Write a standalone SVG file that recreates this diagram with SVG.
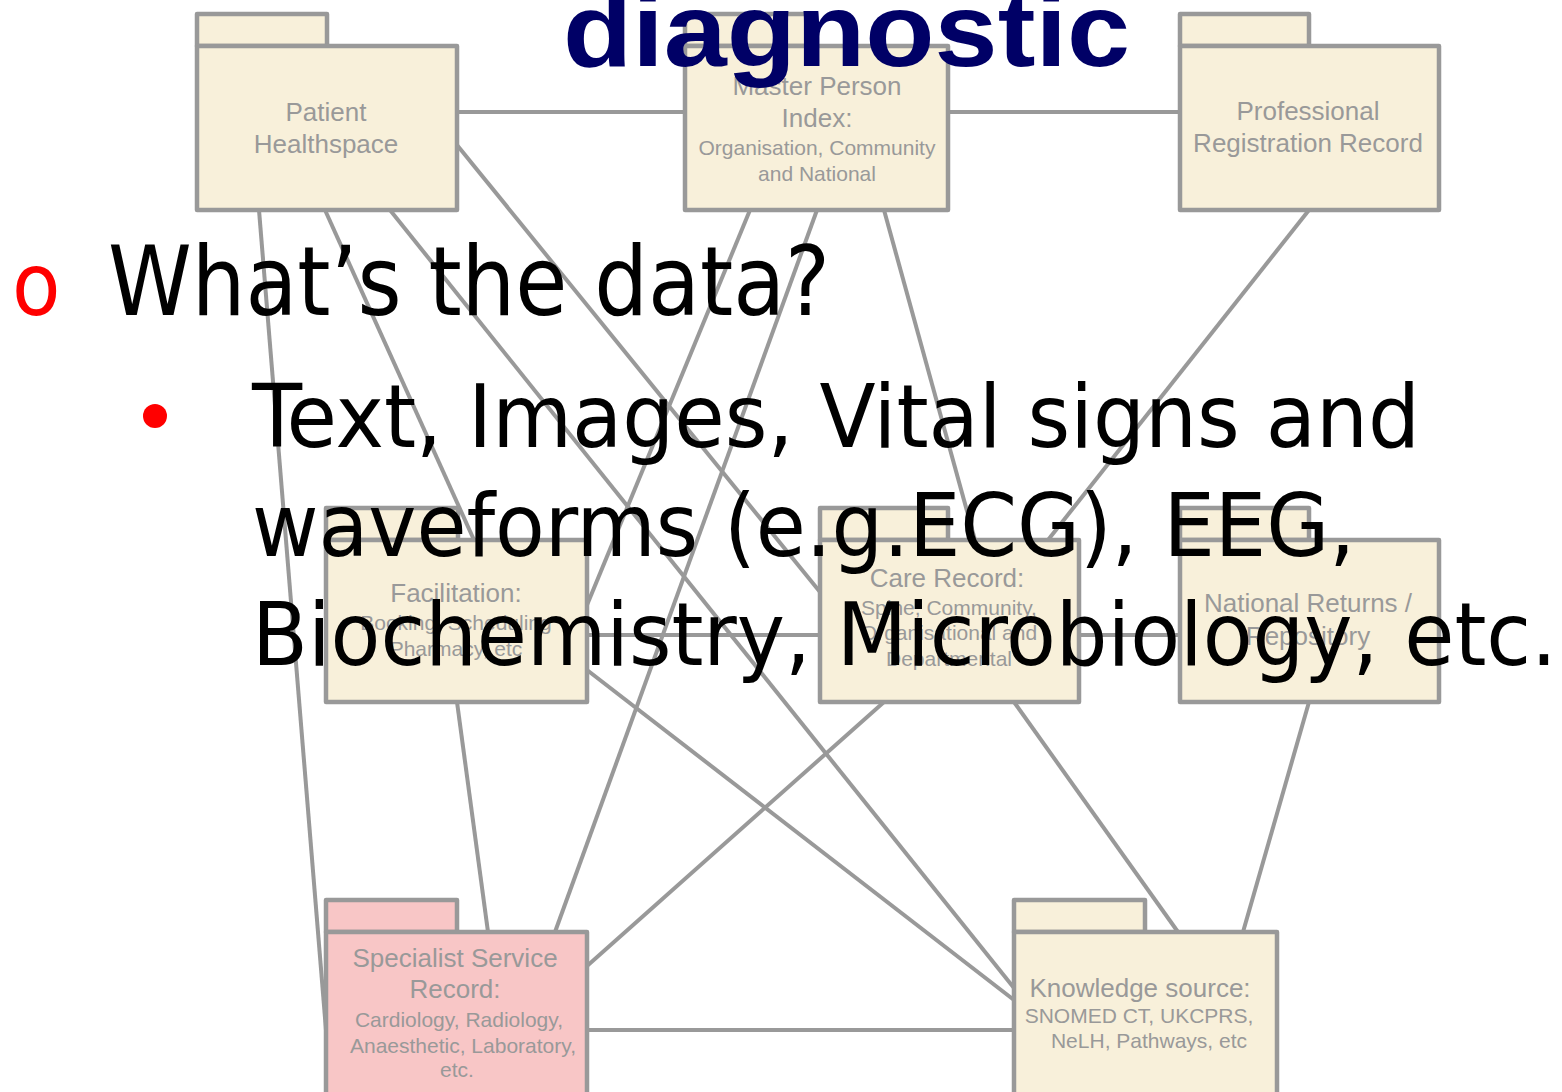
<svg xmlns="http://www.w3.org/2000/svg" width="1562" height="1092" viewBox="0 0 1562 1092">
<style>
.bg{fill:#ffffff}
.cn line{stroke:#999999;stroke-width:4;fill:none}
.f{fill:#F8F0DA;stroke:#999999;stroke-width:4.5;stroke-linejoin:round}
.p{fill:#F8C6C6;stroke:#999999;stroke-width:4.5;stroke-linejoin:round}
.t{font-family:"Liberation Sans",Arial,sans-serif;fill:#999999;text-anchor:middle}
.l{font-size:26px}
.s{font-size:21px}
.title{font-family:"Liberation Sans",Arial,sans-serif;font-weight:bold;fill:#000066;font-size:104px}
.b{font-family:"DejaVu Sans Condensed","DejaVu Sans",sans-serif;fill:#000000}
.red{fill:#FF0000}
</style>
<rect class="bg" x="0" y="0" width="1562" height="1092"/>
<g id="connectors" class="cn">
<line x1="457" y1="112" x2="685" y2="112"/>
<line x1="948" y1="112" x2="1180" y2="112"/>
<line x1="587" y1="635" x2="820" y2="635"/>
<line x1="1079" y1="635" x2="1180" y2="635"/>
<line x1="587" y1="1030" x2="1014" y2="1030"/>
<line x1="259" y1="210" x2="326" y2="1030"/>
<line x1="325" y1="210" x2="474" y2="540"/>
<line x1="390" y1="210" x2="1014" y2="988"/>
<line x1="457" y1="145" x2="820" y2="592"/>
<line x1="750" y1="210" x2="587" y2="605"/>
<line x1="817" y1="210" x2="555" y2="932"/>
<line x1="884" y1="210" x2="975" y2="540"/>
<line x1="1309" y1="210" x2="1048" y2="540"/>
<line x1="457" y1="702" x2="488" y2="932"/>
<line x1="587" y1="670" x2="1014" y2="1000"/>
<line x1="884" y1="702" x2="587" y2="966"/>
<line x1="1014" y1="702" x2="1178" y2="932"/>
<line x1="1309" y1="702" x2="1243" y2="932"/>
</g>
<g id="patient-healthspace">
<rect class="f" x="197" y="14" width="130" height="32"/>
<rect class="f" x="197" y="46" width="260" height="164"/>
<text class="t l" x="326" y="121">Patient</text>
<text class="t l" x="326" y="153">Healthspace</text>
</g>
<g id="master-person-index">
<rect class="f" x="685" y="14" width="130" height="32"/>
<rect class="f" x="685" y="46" width="263" height="164"/>
<text class="t l" x="817" y="95">Master Person</text>
<text class="t l" x="817" y="127">Index:</text>
<text class="t s" x="817" y="155">Organisation, Community</text>
<text class="t s" x="817" y="181">and National</text>
</g>
<g id="professional-registration">
<rect class="f" x="1180" y="14" width="129" height="32"/>
<rect class="f" x="1180" y="46" width="259" height="164"/>
<text class="t l" x="1308" y="120">Professional</text>
<text class="t l" x="1308" y="152">Registration Record</text>
</g>
<g id="facilitation">
<rect class="f" x="326" y="508" width="132" height="32"/>
<rect class="f" x="326" y="540" width="261" height="162"/>
<text class="t l" x="456" y="602">Facilitation:</text>
<text class="t s" x="456" y="630">Booking, Scheduling</text>
<text class="t s" x="456" y="656">Pharmacy, etc</text>
</g>
<g id="care-record">
<rect class="f" x="820" y="508" width="128" height="32"/>
<rect class="f" x="820" y="540" width="259" height="162"/>
<text class="t l" x="947" y="587">Care Record:</text>
<text class="t s" x="949" y="615">Spine, Community,</text>
<text class="t s" x="949" y="640">Organisational and</text>
<text class="t s" x="949" y="666">Departmental</text>
</g>
<g id="national-returns">
<rect class="f" x="1180" y="508" width="129" height="32"/>
<rect class="f" x="1180" y="540" width="259" height="162"/>
<text class="t l" x="1308" y="612">National Returns /</text>
<text class="t l" x="1308" y="645">Repository</text>
</g>
<g id="specialist-service-record">
<rect class="p" x="326" y="900" width="131" height="32"/>
<rect class="p" x="326" y="932" width="261" height="170"/>
<text class="t l" x="455" y="967">Specialist Service</text>
<text class="t l" x="455" y="998">Record:</text>
<text class="t s" x="459" y="1027">Cardiology, Radiology,</text>
<text class="t s" x="463" y="1053">Anaesthetic, Laboratory,</text>
<text class="t s" x="457" y="1077">etc.</text>
</g>
<g id="knowledge-source">
<rect class="f" x="1014" y="900" width="131" height="32"/>
<rect class="f" x="1014" y="932" width="263" height="170"/>
<text class="t l" x="1140" y="997">Knowledge source:</text>
<text class="t s" x="1139" y="1023">SNOMED CT, UKCPRS,</text>
<text class="t s" x="1149" y="1048">NeLH, Pathways, etc</text>
</g>
<text class="title" x="563" y="66" textLength="567" lengthAdjust="spacingAndGlyphs">diagnostic</text>
<text class="b red" x="12" y="315" font-size="88">o</text>
<text class="b" x="108" y="315" font-size="96" textLength="722" lengthAdjust="spacingAndGlyphs">What’s the data?</text>
<circle class="red" cx="155" cy="416" r="12"/>
<text class="b" x="252" y="447" font-size="88" textLength="1168" lengthAdjust="spacingAndGlyphs">Text, Images, Vital signs and</text>
<text class="b" x="252" y="556" font-size="88" textLength="1103" lengthAdjust="spacingAndGlyphs">waveforms (e.g.ECG), EEG,</text>
<text class="b" x="252" y="665" font-size="88" textLength="1305" lengthAdjust="spacingAndGlyphs">Biochemistry, Microbiology, etc.</text>
</svg>
